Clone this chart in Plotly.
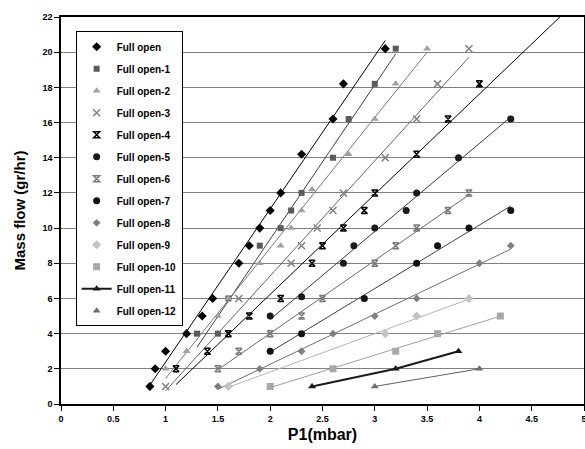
import numpy as np
import plotly.graph_objects as go

names = ["Full open", "Full open-1", "Full open-2", "Full open-3", "Full open-4",
         "Full open-5", "Full open-6", "Full open-7", "Full open-8", "Full open-9",
         "Full open-10", "Full open-11", "Full open-12"]

x0 = [0.85, 0.9, 1.0, 1.2, 1.35, 1.45, 1.7, 1.8, 1.9, 2.0, 2.1, 2.3, 2.6, 2.7, 3.1]
y0 = [1, 2, 3, 4, 5, 6, 8, 9, 10, 11, 12, 14.2, 16.2, 18.2, 20.2]
x1 = [1.3, 1.5, 1.6, 1.9, 2.1, 2.2, 2.3, 2.6, 2.75, 3.0, 3.2]
y1 = [4, 4, 6, 9, 10, 11, 12, 14, 16.2, 18.2, 20.2]
x2 = [1.0, 1.2, 1.5, 1.6, 1.9, 2.1, 2.2, 2.3, 2.4, 2.75, 3.0, 3.2, 3.5]
y2 = [2, 3, 5, 6, 8, 9, 10, 11, 12.2, 14.2, 16.2, 18.2, 20.2]
x3 = [1.0, 1.7, 2.2, 2.3, 2.45, 2.6, 2.7, 3.1, 3.4, 3.6, 3.9]
y3 = [1, 6, 8, 9, 10, 11, 12, 14, 16.2, 18.2, 20.2]
x4 = [1.1, 1.4, 1.6, 1.8, 2.1, 2.4, 2.5, 2.7, 2.9, 3.0, 3.4, 3.7, 4.0]
y4 = [2, 3, 4, 5, 6, 8, 9, 10, 11, 12, 14.2, 16.2, 18.2]
x5 = [2.0, 2.3, 2.7, 2.8, 3.0, 3.3, 3.4, 3.8, 4.3]
y5 = [5, 6.1, 8, 9, 10, 11, 12, 14, 16.2]
x6 = [1.5, 1.7, 2.0, 2.3, 2.5, 3.0, 3.2, 3.4, 3.7, 3.9]
y6 = [2, 3, 4, 5, 6, 8, 9, 10, 11, 12]
x7 = [2.0, 2.3, 2.9, 3.4, 3.6, 3.9, 4.3]
y7 = [3, 4, 6, 8, 9, 10, 11]
x8 = [1.5, 1.9, 2.3, 2.6, 3.0, 3.4, 4.0, 4.3]
y8 = [1, 2, 3, 4, 5, 6, 8, 9]
x9 = [1.6, 3.1, 3.4, 3.9]
y9 = [1, 4, 5, 6]
x10 = [2.0, 2.6, 3.2, 3.6, 4.2]
y10 = [1, 2, 3, 4, 5]
x11 = [2.4, 3.2, 3.8]
y11 = [1, 2, 3]
x12 = [3.0, 4.0]
y12 = [1, 2]

xs = [x0, x1, x2, x3, x4, x5, x6, x7, x8, x9, x10, x11, x12]
ys = [y0, y1, y2, y3, y4, y5, y6, y7, y8, y9, y10, y11, y12]

x_ticks = [0, 0.5, 1, 1.5, 2, 2.5, 3, 3.5, 4, 4.5, 5]
x_tick_text = ["0", "0.5", "1", "1.5", "2", "2.5", "3", "3.5", "4", "4.5", "5"]
y_ticks = list(range(0, 23, 2))

# styles
symbols = ["diamond", "square", "triangle-up", "x-thin-open", "hourglass-open",
           "circle", "hourglass-open", "circle", "diamond", "diamond",
           "square", "triangle-up", "triangle-up"]
mcolors = ["#000000", "#5a5a5a", "#a0a0a0", "#808080", "#000000",
           "#1a1a1a", "#7a7a7a", "#111111", "#7f7f7f", "#c4c4c4",
           "#a8a8a8", "#1a1a1a", "#6e6e6e"]
msizes = [7, 6, 7, 7, 6, 7, 6, 7, 6, 7, 7, 7, 7]
lcolors = ["#000000", "#404040", "#7a7a7a", "#666666", "#000000",
           "#3a3a3a", "#6a6a6a", "#404040", "#707070", "#b4b4b4",
           "#a0a0a0", "#1a1a1a", "#606060"]
lwidths = [1, 1, 1, 1, 1, 1, 1, 1, 1, 1, 1, 2, 1]
forward = {4: 1.2}
connected = {11}

fig = go.Figure()
for i, nm in enumerate(names):
    xa = np.array(xs[i], float)
    ya = np.array(ys[i], float)
    open_sym = symbols[i].endswith("open")
    marker = dict(symbol=symbols[i], size=msizes[i], color=mcolors[i],
                  line=dict(color=mcolors[i], width=1.5 if open_sym else 0))
    if i in connected:
        fig.add_trace(go.Scatter(x=xa, y=ya, name=nm, mode="lines+markers",
                                 marker=marker, legendgroup=nm,
                                 line=dict(color=lcolors[i], width=lwidths[i])))
    else:
        k, b = np.polyfit(xa, ya, 1)
        tx = np.array([xa.min(), xa.max() + forward.get(i, 0)])
        fig.add_trace(go.Scatter(x=tx, y=k * tx + b, mode="lines", showlegend=False,
                                 legendgroup=nm, hoverinfo="skip",
                                 line=dict(color=lcolors[i], width=lwidths[i])))
        fig.add_trace(go.Scatter(x=xa, y=ya, name=nm, mode="markers",
                                 marker=marker, legendgroup=nm))

font_family = "Liberation Sans, Arial, sans-serif"
fig.update_layout(
    width=585, height=449,
    margin=dict(l=61, r=1, t=17, b=45),
    paper_bgcolor="white", plot_bgcolor="white",
    font=dict(family=font_family, color="black", size=9, weight="bold"),
    showlegend=True,
    legend=dict(x=0.028, y=0.963, xanchor="left", yanchor="top",
                bgcolor="white", bordercolor="black", borderwidth=1,
                font=dict(size=10, family=font_family, weight="bold"),
                tracegroupgap=3, itemwidth=30),
    xaxis=dict(range=[0, 5], tickvals=x_ticks, ticktext=x_tick_text,
               showgrid=False, zeroline=False, automargin=False,
               showline=True, linecolor="black", linewidth=1.5, mirror=True,
               ticks="outside", ticklen=5, tickcolor="black",
               ticklabeloverflow="allow",
               tickfont=dict(size=9, weight="bold"),
               title=dict(text="P1(mbar)", font=dict(size=16, weight="bold"), standoff=6)),
    yaxis=dict(range=[0, 22], tickvals=y_ticks,
               showgrid=True, gridcolor="#808080", gridwidth=1, zeroline=False,
               automargin=False,
               showline=True, linecolor="black", linewidth=1.5, mirror=True,
               ticks="outside", ticklen=5, tickcolor="black",
               tickfont=dict(size=9, weight="bold"),
               title=dict(text="Mass flow (gr/hr)", font=dict(size=15, weight="bold"), standoff=13)),
)
fig.write_html("out.html", config={"displayModeBar": False},
               post_script="document.body.style.margin='0';document.body.style.overflow='hidden';")
